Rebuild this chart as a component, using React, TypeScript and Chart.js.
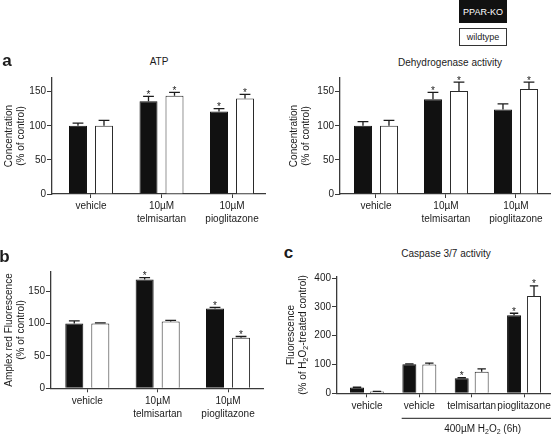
import React, { useEffect, useRef } from "react";
import { Chart, registerables } from "chart.js";

Chart.register(...registerables);

const FONT = "'Liberation Sans', Arial, Helvetica, sans-serif";
const INK = "#1b1b1b";
const AXIS = "#3a3a3a";
const KO_FILL = "#111111";

// ---------------- data ----------------
const treatmentLabels = ["vehicle", "10µM\ntelmisartan", "10µM\npioglitazone"];

// a: ATP (% of control)
const atpKO = [100, 136, 121];
const atpKOSem = [4, 7, 4];
const atpKOSig = [0, 1, 1];
const atpWT = [100, 144, 140];
const atpWTSem = [8, 5, 6];
const atpWTSig = [0, 1, 1];

// a: Dehydrogenase activity (% of control)
const dhKO = [100, 139, 124];
const dhKOSem = [6, 10, 8];
const dhKOSig = [0, 1, 0];
const dhWT = [100, 151, 154];
const dhWTSem = [8, 13, 10];
const dhWTSig = [0, 1, 1];

// b: Amplex red fluorescence (% of control)
const amplexKO = [100, 168, 123];
const amplexKOSem = [4, 3, 2];
const amplexKOSig = [0, 1, 1];
const amplexWT = [100, 103, 78];
const amplexWTSem = [1, 2, 2];
const amplexWTSig = [0, 0, 1];

// c: Caspase 3/7 activity (% of H2O2-treated control)
const caspaseLabels = ["vehicle", "vehicle", "telmisartan", "pioglitazone"];
const caspKO = [20, 101, 52, 271];
const caspKOSem = [1, 1, 2, 7];
const caspKOSig = [0, 0, 1, 1];
const caspWT = [6, 100, 75, 338];
const caspWTSem = [1, 5, 10, 35];
const caspWTSig = [0, 0, 0, 1];

const concTicks = [0, 50, 100, 150];
const amplexTicks = [0, 50, 100, 150];
const caspTicks = [0, 100, 200, 300, 400];

const seriesNames = ["PPAR-KO", "wildtype"];

// ---------------- helpers ----------------
function parseRich(t: string) {
  return t
    .split("~")
    .map((p, i) => ({ t: p, sub: i % 2 === 1 }))
    .filter((p) => p.t.length > 0);
}

function drawRich(ctx: CanvasRenderingContext2D, text: string, x: number, y: number, size: number, align: "center" | "left" = "center") {
  const segs = parseRich(text);
  const main = `${size}px ${FONT}`;
  const small = `${Math.round(size * 0.72)}px ${FONT}`;
  let w = 0;
  segs.forEach((s) => {
    ctx.font = s.sub ? small : main;
    w += ctx.measureText(s.t).width;
  });
  let cx = align === "center" ? x - w / 2 : x;
  ctx.textAlign = "left";
  ctx.textBaseline = "middle";
  segs.forEach((s) => {
    ctx.font = s.sub ? small : main;
    ctx.fillText(s.t, cx, y + (s.sub ? size * 0.3 : 0));
    cx += ctx.measureText(s.t).width;
  });
}

type Box = { left: number; top: number; width: number; height: number };
type Area = { l: number; t: number; r: number; b: number };
type Spec = {
  id: string;
  box: Box;
  area: Area;
  labels: string[];
  ko: number[];
  koSem: number[];
  koSig: number[];
  wt: number[];
  wtSem: number[];
  wtSig: number[];
  xMin: number;
  xMax: number;
  yMax: number;
  yTicks: number[];
  yTitle: string[];
  yTitleX: number;
  yTitleGap: number;
  catPct: number;
  barPct: number;
  xH: number;
  note?: { text: string; from: number; textAt: number };
};

const panels: Spec[] = [
  {
    id: "atp",
    box: { left: 0, top: 68, width: 276, height: 160 },
    area: { l: 52, t: 78, r: 265, b: 194 },
    labels: treatmentLabels,
    ko: atpKO, koSem: atpKOSem, koSig: atpKOSig,
    wt: atpWT, wtSem: atpWTSem, wtSig: atpWTSig,
    xMin: -0.553, xMax: 2.468, yMax: 170, yTicks: concTicks,
    yTitle: ["Concentration", "(% of control)"], yTitleX: 9, yTitleGap: 12,
    catPct: 0.7376, barPct: 0.692, xH: 30,
  },
  {
    id: "dh",
    box: { left: 280, top: 68, width: 274, height: 160 },
    area: { l: 340, t: 78, r: 550, b: 194 },
    labels: treatmentLabels,
    ko: dhKO, koSem: dhKOSem, koSig: dhKOSig,
    wt: dhWT, wtSem: dhWTSem, wtSig: dhWTSig,
    xMin: -0.514, xMax: 2.486, yMax: 170, yTicks: concTicks,
    yTitle: ["Concentration", "(% of control)"], yTitleX: 14, yTitleGap: 12,
    catPct: 0.743, barPct: 0.692, xH: 30,
  },
  {
    id: "amplex",
    box: { left: 0, top: 262, width: 276, height: 175 },
    area: { l: 51, t: 271.7, r: 263, b: 388.3 },
    labels: treatmentLabels,
    ko: amplexKO, koSem: amplexKOSem, koSig: amplexKOSig,
    wt: amplexWT, wtSem: amplexWTSem, wtSig: amplexWTSig,
    xMin: -0.516, xMax: 2.497, yMax: 180, yTicks: amplexTicks,
    yTitle: ["Amplex red Fluorescence", "(% of control)"], yTitleX: 9, yTitleGap: 12,
    catPct: 0.74, barPct: 0.692, xH: 40,
  },
  {
    id: "casp",
    box: { left: 280, top: 262, width: 274, height: 175 },
    area: { l: 337, t: 276.7, r: 550, b: 393.3 },
    labels: caspaseLabels,
    ko: caspKO, koSem: caspKOSem, koSig: caspKOSig,
    wt: caspWT, wtSem: caspWTSem, wtSig: caspWTSig,
    xMin: -0.573, xMax: 3.496, yMax: 405, yTicks: caspTicks,
    yTitle: ["Fluorescence", "(% of H~2~O~2~-treated control)"], yTitleX: 11, yTitleGap: 12,
    catPct: 0.763, barPct: 0.7, xH: 40,
    note: { text: "400µM H~2~O~2~ (6h)", from: 0.663, textAt: 2.21 },
  },
];

function Panel({ spec }: { spec: Spec }) {
  const ref = useRef<HTMLCanvasElement | null>(null);

  useEffect(() => {
    const s = spec;
    const canvas = ref.current;
    if (!canvas) return;
    const yW = s.area.l - s.box.left;
    const padTop = s.area.t - s.box.top;
    const padRight = s.box.left + s.box.width - s.area.r;
    const padBottom = s.box.top + s.box.height - s.area.b - s.xH;

    const sets = [
      { vals: s.ko, sems: s.koSem, sig: s.koSig },
      { vals: s.wt, sems: s.wtSem, sig: s.wtSig },
    ];

    const errPlugin = {
      id: "errbars",
      afterDatasetsDraw(chart: any) {
        const { ctx } = chart;
        const y = chart.scales.y;
        sets.forEach((set, d) => {
          const meta = chart.getDatasetMeta(d);
          meta.data.forEach((el: any, i: number) => {
            const top = y.getPixelForValue(set.vals[i] + set.sems[i]);
            const cw = el.width * 0.6;
            ctx.save();
            ctx.strokeStyle = INK;
            ctx.lineWidth = 1.3;
            ctx.beginPath();
            ctx.moveTo(el.x, el.y);
            ctx.lineTo(el.x, top);
            ctx.moveTo(el.x - cw / 2, top);
            ctx.lineTo(el.x + cw / 2, top);
            ctx.stroke();
            if (set.sig[i]) {
              ctx.fillStyle = INK;
              ctx.font = `10px ${FONT}`;
              ctx.textAlign = "center";
              ctx.textBaseline = "alphabetic";
              ctx.fillText("*", el.x, top + 1.5);
            }
            ctx.restore();
          });
        });
      },
    };

    const textPlugin = {
      id: "paneltext",
      afterDraw(chart: any) {
        const { ctx, chartArea } = chart;
        ctx.save();
        ctx.fillStyle = INK;
        ctx.translate(s.yTitleX, (chartArea.top + chartArea.bottom) / 2);
        ctx.rotate(-Math.PI / 2);
        s.yTitle.forEach((ln, i) => drawRich(ctx, ln, 0, i * s.yTitleGap, 10));
        ctx.restore();
        if (s.note) {
          const x = chart.scales.x;
          const ly = chartArea.bottom + 25;
          ctx.save();
          ctx.strokeStyle = INK;
          ctx.lineWidth = 1;
          ctx.beginPath();
          ctx.moveTo(x.getPixelForValue(s.note.from), ly);
          ctx.lineTo(chartArea.right + 1, ly);
          ctx.stroke();
          ctx.fillStyle = INK;
          drawRich(ctx, s.note.text, x.getPixelForValue(s.note.textAt), ly + 11, 10);
          ctx.restore();
        }
      },
    };

    const tickFont = { family: FONT, size: 10, lineHeight: 1.3 };

    const chart = new Chart(canvas, {
      type: "bar",
      data: {
        datasets: [
          {
            label: seriesNames[0],
            data: s.ko.map((v, i) => ({ x: i, y: v })),
            backgroundColor: KO_FILL,
            borderColor: KO_FILL,
            borderWidth: 1,
            categoryPercentage: s.catPct,
            barPercentage: s.barPct,
          },
          {
            label: seriesNames[1],
            data: s.wt.map((v, i) => ({ x: i, y: v })),
            backgroundColor: "#ffffff",
            borderColor: "#2a2a2a",
            borderWidth: 1,
            categoryPercentage: s.catPct,
            barPercentage: s.barPct,
          },
        ],
      } as any,
      options: {
        animation: false,
        responsive: false,
        maintainAspectRatio: false,
        devicePixelRatio: 1,
        layout: { padding: { left: 0, top: padTop, right: padRight, bottom: padBottom } },
        plugins: {
          legend: { display: false },
          tooltip: { enabled: false },
          title: { display: false },
        },
        scales: {
          x: {
            type: "linear",
            min: s.xMin,
            max: s.xMax,
            offset: false,
            grid: {
              display: true,
              offset: false,
              drawOnChartArea: false,
              drawTicks: true,
              tickLength: 4,
              color: AXIS,
              lineWidth: 1,
            },
            border: { display: true, color: AXIS, width: 1.3 },
            ticks: {
              autoSkip: false,
              maxRotation: 0,
              minRotation: 0,
              padding: 2,
              color: INK,
              font: tickFont,
              callback: (v: any) => {
                const lab = s.labels[Math.round(Number(v))];
                return lab ? lab.split("\n") : "";
              },
            },
            afterBuildTicks: (scale: any) => {
              scale.ticks = s.labels.map((_, i) => ({ value: i }));
            },
            afterFit: (scale: any) => {
              scale.height = s.xH;
            },
          },
          y: {
            type: "linear",
            min: 0,
            max: s.yMax,
            grid: {
              display: true,
              drawOnChartArea: false,
              drawTicks: true,
              tickLength: 5,
              color: AXIS,
              lineWidth: 1,
            },
            border: { display: true, color: AXIS, width: 1.3 },
            ticks: { padding: 1, color: INK, font: tickFont },
            afterBuildTicks: (scale: any) => {
              scale.ticks = s.yTicks.map((v) => ({ value: v }));
            },
            afterFit: (scale: any) => {
              scale.width = yW;
            },
          },
        },
      } as any,
      plugins: [errPlugin, textPlugin],
    });
    return () => chart.destroy();
  }, [spec]);

  return (
    <canvas
      ref={ref}
      width={spec.box.width}
      height={spec.box.height}
      style={{
        position: "absolute",
        left: spec.box.left,
        top: spec.box.top,
        width: spec.box.width,
        height: spec.box.height,
      }}
    />
  );
}

function T(props: { x: number; y: number; size?: number; bold?: boolean; children: React.ReactNode }) {
  const { x, y, size = 10, bold = false, children } = props;
  return (
    <div
      style={{
        position: "absolute",
        left: x,
        top: y,
        transform: "translate(-50%, -50%)",
        fontSize: size,
        fontWeight: bold ? 700 : 400,
        lineHeight: 1,
        whiteSpace: "nowrap",
        color: INK,
        fontFamily: FONT,
      }}
    >
      {children}
    </div>
  );
}

export default function App() {
  return (
    <div
      style={{
        position: "absolute",
        left: 0,
        top: 0,
        width: 554,
        height: 437,
        background: "#ffffff",
        overflow: "hidden",
        fontFamily: FONT,
      }}
    >
      {panels.map((p) => (
        <Panel key={p.id} spec={p} />
      ))}

      <T x={7} y={59.5} size={17} bold>a</T>
      <T x={4.5} y={255.5} size={17} bold>b</T>
      <T x={288.5} y={252} size={17} bold>c</T>

      <T x={159} y={62}>ATP</T>
      <T x={450} y={62.5}>Dehydrogenase activity</T>
      <T x={446} y={254}>Caspase 3/7 activity</T>

      <div
        style={{
          position: "absolute",
          left: 459,
          top: 0,
          width: 48,
          height: 23,
          background: KO_FILL,
          color: "#ffffff",
          fontSize: 9,
          fontFamily: FONT,
          display: "flex",
          alignItems: "center",
          justifyContent: "center",
          whiteSpace: "nowrap",
        }}
      >
        {seriesNames[0]}
      </div>
      <div
        style={{
          position: "absolute",
          left: 459,
          top: 28,
          width: 48,
          height: 18,
          boxSizing: "border-box",
          border: "1px solid #333",
          background: "#ffffff",
          color: INK,
          fontSize: 9,
          fontFamily: FONT,
          display: "flex",
          alignItems: "center",
          justifyContent: "center",
          whiteSpace: "nowrap",
        }}
      >
        {seriesNames[1]}
      </div>
    </div>
  );
}
